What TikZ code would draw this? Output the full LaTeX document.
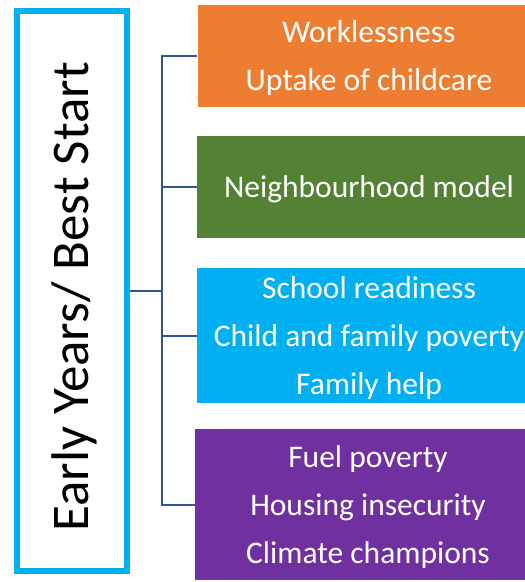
\documentclass[tikz,border=0pt]{standalone}
\usepackage{fontspec}
\setmainfont{Carlito}
\definecolor{cOrange}{HTML}{ED7D31}
\definecolor{cGreen}{HTML}{548235}
\definecolor{cBlue}{HTML}{00B0F0}
\definecolor{cPurple}{HTML}{7030A0}
\definecolor{cLine}{HTML}{2F5597}
\begin{document}
\begin{tikzpicture}[x=1pt,y=-1pt,
  itembox/.style={rectangle, draw=none, minimum width=343pt, inner sep=0pt},
  itemtext/.style={align=center, text=white, inner sep=0pt, font=\fontsize{31.5}{48}\selectfont},
  conn/.style={draw=cLine, line width=2pt},
  mainbox/.style={rectangle, draw=cBlue, line width=6pt, minimum width=110pt, minimum height=560pt, inner sep=0pt}]
\useasboundingbox (0,0) rectangle (525,582);
\clip (0,0) rectangle (525,582);
\node[mainbox] (L) at (72,291) {};
\node[rotate=90, inner sep=0pt, font=\fontsize{53}{60}\selectfont] (Lt) at (74,297) {Early Years/ Best Start};
\node[itembox, fill=cOrange, minimum height=102pt] (o) at (369,56) {};
\node[itembox, fill=cGreen, minimum height=102pt] (g) at (368.5,187) {};
\node[itembox, fill=cBlue, minimum height=135pt] (b) at (368.5,335.5) {};
\node[itembox, fill=cPurple, minimum height=151pt, minimum width=345pt] (p) at (367.5,504.5) {};
\node[itemtext] (ot) at (369,58.5) {Worklessness\\Uptake of childcare};
\node[itemtext] (gt) at (369,189) {Neighbourhood model};
\node[itemtext] (bt) at (369,338) {School readiness\\Child and family poverty\\Family help};
\node[itemtext] (pt) at (368,507) {Fuel poverty\\Housing insecurity\\Climate champions};
\coordinate (t) at (162,291);
\draw[conn] (L.east) -- (t);
\draw[conn] (o.west) -- (o.west -| t) -- (p.west -| t) -- (p.west);
\draw[conn] (g.west) -- (g.west -| t);
\draw[conn] (b.west) -- (b.west -| t);
\end{tikzpicture}
\end{document}
